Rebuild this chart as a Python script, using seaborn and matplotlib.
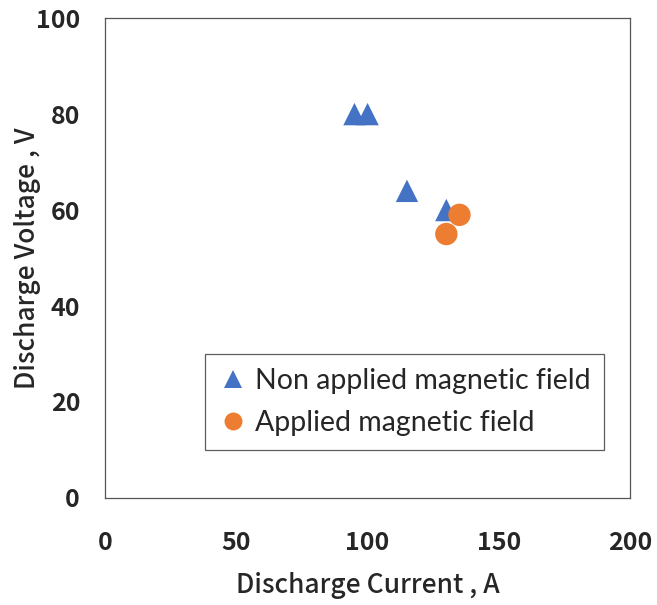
import pandas as pd
import matplotlib.pyplot as plt
import seaborn as sns

# Werte
current_non = [95, 100, 115, 130]
voltage_non = [80, 80, 64, 60]
current_app = [130, 135]
voltage_app = [55, 59]
labels = ['Non applied magnetic field', 'Applied magnetic field']

df = pd.DataFrame({
    'Current': current_non + current_app,
    'Voltage': voltage_non + voltage_app,
    'Case': [labels[0]] * len(current_non) + [labels[1]] * len(current_app),
})

sns.set_style('white')
plt.rcParams['font.family'] = ['Noto Sans CJK JP', 'DejaVu Sans']

fig = plt.figure(figsize=(6.57, 6.05), dpi=100)
ax = fig.add_axes([0.160, 0.177, 0.799, 0.793])

sns.scatterplot(data=df, x='Current', y='Voltage', hue='Case', style='Case',
                palette={labels[0]: '#4472C4', labels[1]: '#ED7D31'},
                markers={labels[0]: '^', labels[1]: 'o'},
                s=260, linewidth=0, ax=ax)

ax.set_xlim(0, 200)
ax.set_ylim(0, 100)
ax.set_xticks([0, 50, 100, 150, 200])
ax.set_yticks([0, 20, 40, 60, 80, 100])
ax.tick_params(direction='in', length=7, width=0.8, pad=18, labelsize=18)
ax.tick_params(axis='x', pad=24)
for lab in ax.get_xticklabels() + ax.get_yticklabels():
    lab.set_fontweight('bold')
for sp in ax.spines.values():
    sp.set_color('#555555')
    sp.set_linewidth(0.9)

ax.set_xlabel('Discharge Current , A', fontsize=19, fontweight='medium',
              labelpad=12)
ax.set_ylabel('Discharge Voltage , V', fontsize=19, fontweight='medium')
ax.yaxis.set_label_coords(-0.122, 0.5)

leg = ax.legend(loc='lower left', bbox_to_anchor=(0.19, 0.1, 0.76, 0.21),
                mode='expand', borderaxespad=0, fontsize=20.5, frameon=True,
                fancybox=False, handlelength=1.0, handletextpad=0.25,
                borderpad=0.5, labelspacing=0.55, markerscale=0.8)
leg.get_frame().set_edgecolor('#333333')
leg.get_frame().set_linewidth(0.9)
for t in leg.get_texts():
    t.set_family(['Lato', 'DejaVu Sans'])

fig.savefig('out.png', dpi=100)
